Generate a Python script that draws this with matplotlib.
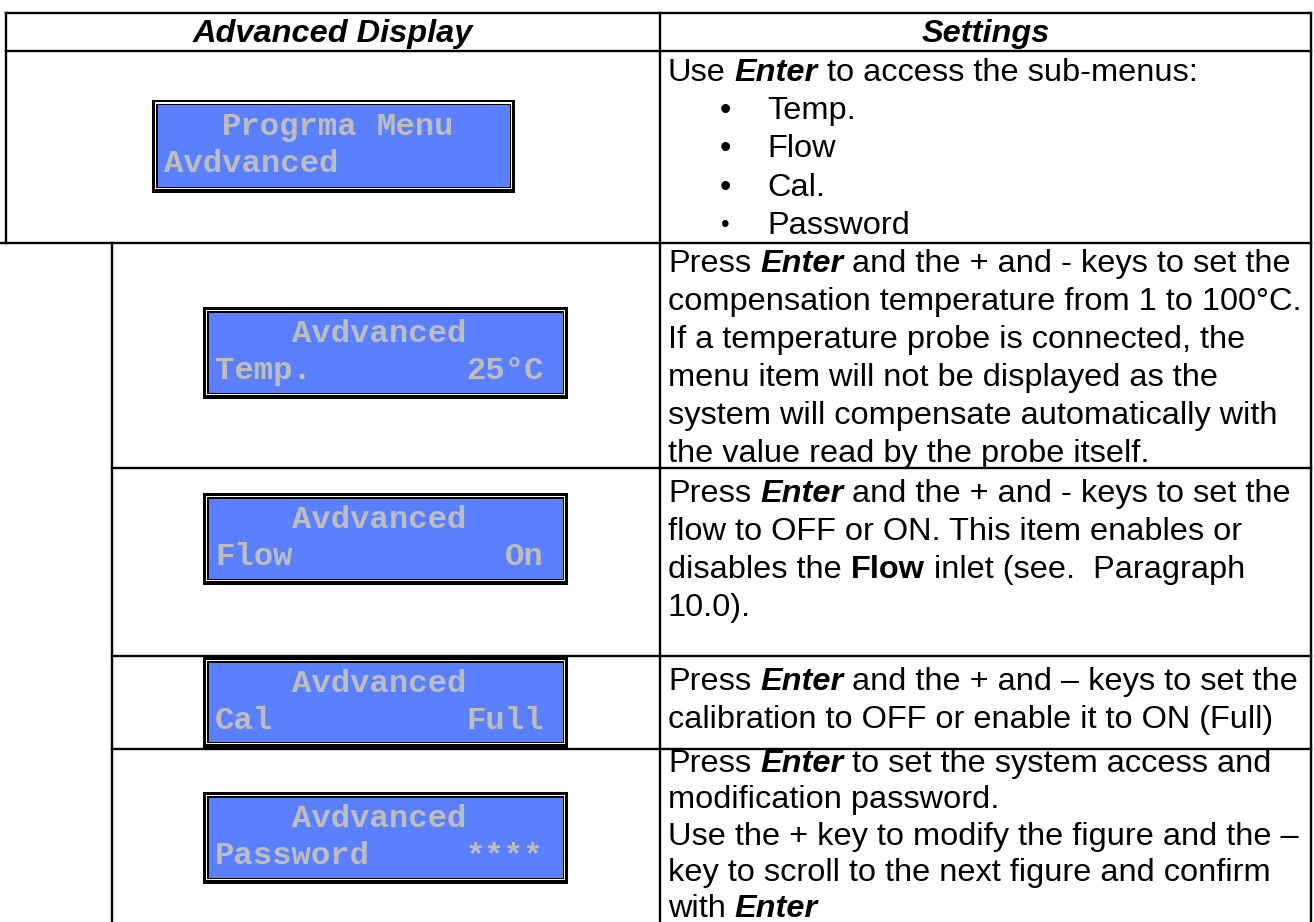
import matplotlib
matplotlib.use('Agg')
import matplotlib.pyplot as plt
from matplotlib.patches import Rectangle
from matplotlib.font_manager import FontProperties

# ---------------- data (texts of the table)
header_left = 'Advanced Display'
header_right = 'Settings'

lcd_lines = [
    ['   Progrma Menu', 'Avdvanced'],
    ['    Avdvanced', 'Temp.        25°C'],
    ['    Avdvanced', 'Flow           On'],
    ['    Avdvanced', 'Cal          Full'],
    ['    Avdvanced', 'Password     ****'],
]

bullets = ['Temp.', 'Flow', 'Cal.', 'Password']

# each line is a list of (text, style) runs: n normal, b bold, bi bold italic
settings = [
    [[('Use ', 'n'), ('Enter', 'bi'), (' to access the sub-menus:', 'n')]],
    [[('Press ', 'n'), ('Enter', 'bi'), (' and the + and - keys to set the', 'n')],
     [('compensation temperature from 1 to 100°C.', 'n')],
     [('If a temperature probe is connected, the', 'n')],
     [('menu item will not be displayed as the', 'n')],
     [('system will compensate automatically with', 'n')],
     [('the value read by the probe itself.', 'n')]],
    [[('Press ', 'n'), ('Enter', 'bi'), (' and the + and - keys to set the', 'n')],
     [('flow to OFF or ON. This item enables or', 'n')],
     [('disables the ', 'n'), ('Flow', 'b'), (' inlet (see.  Paragraph', 'n')],
     [('10.0).', 'n')]],
    [[('Press ', 'n'), ('Enter', 'bi'), (' and the + and \u2013 keys to set the', 'n')],
     [('calibration to OFF or enable it to ON (Full)', 'n')]],
    [[('Press ', 'n'), ('Enter', 'bi'), (' to set the system access and', 'n')],
     [('modification password.', 'n')],
     [('Use the + key to modify the figure and the \u2013', 'n')],
     [('key to scroll to the next figure and confirm', 'n')],
     [('with ', 'n'), ('Enter', 'bi')]],
]

######## layout (pixels)
W, H = 1314, 922
fig = plt.figure(figsize=(W / 100, H / 100), dpi=100)
ax = fig.add_axes([0, 0, 1, 1])
ax.set_xlim(0, W)
ax.set_ylim(H, 0)
ax.axis('off')

LW = 1.7
xl, xs, xm, xr = 6, 112, 660, 1311
ytop, yhead = 13, 51
row_lines = [243, 468, 656, 749]

def hline(y, x0, x1):
    ax.plot([x0, x1], [y, y], color='black', lw=LW, solid_capstyle='projecting')

def vline(x, y0, y1):
    ax.plot([x, x], [y0, y1], color='black', lw=LW, solid_capstyle='projecting')

hline(ytop, xl, xr)
hline(yhead, xl, xr)
hline(row_lines[0], 0, xr)
for y in row_lines[1:]:
    hline(y, xs, xr)
vline(xl, ytop, row_lines[0])
vline(xs, row_lines[0], H + 5)
vline(xm, ytop, H + 5)
vline(xr, ytop, H + 5)

SANS = 'Liberation Sans'
FS = 23.4
props = {
    'n': FontProperties(family=SANS, size=FS),
    'b': FontProperties(family=SANS, size=FS, weight='bold'),
    'bi': FontProperties(family=SANS, size=FS, weight='bold', style='italic'),
}

ax.text((xl + xm) / 2, 42, header_left, fontproperties=props['bi'], ha='center', va='baseline')
ax.text((xm + xr) / 2, 42, header_right, fontproperties=props['bi'], ha='center', va='baseline')

######## run layout for mixed style lines
renderer = fig.canvas.get_renderer()

def text_w(s, fp):
    w1 = renderer.get_text_width_height_descent('|' + s + '|', fp, ismath=False)[0]
    w0 = renderer.get_text_width_height_descent('||', fp, ismath=False)[0]
    return w1 - w0

def draw_runs(x, y, runs):
    for s, st in runs:
        fp = props[st]
        core = s.strip()
        lead = len(s) - len(s.lstrip())
        x += text_w(' ' * lead, fp) if lead else 0
        if core:
            ax.text(x, y, core, fontproperties=fp, ha='left', va='baseline')
        x += text_w(s.lstrip(), fp)

tx = 668
first_base = [81, 272, 502, 690, 772]
row_sp = [38.2, 38, 38, 38, 36.3]
for r, lines in enumerate(settings):
    for i, runs in enumerate(lines):
        draw_runs(tx, first_base[r] + i * row_sp[r], runs)

for i, b in enumerate(bullets):
    y = first_base[0] + (i + 1) * row_sp[0]
    ax.text(725, y - 8, '\u2022', fontproperties=props['n'], ha='center', va='center',
            fontsize=FS if i < 3 else FS * 0.75)
    ax.text(767, y, b, fontproperties=props['n'], ha='left', va='baseline')

######## LCD boxes
boxes = [(152, 100, 363, 93), (203, 307, 365, 92), (203, 493, 365, 92),
         (203, 657, 365, 91), (203, 792, 365, 92)]
LCD_BLUE = '#5a80ff'
LCD_TEXT = '#bdbdbd'
MONO = FontProperties(family='Liberation Mono', size=23.2, weight='bold')
CW = 19.3

for (bx, by, bw, bh), lines in zip(boxes, lcd_lines):
    ax.add_patch(Rectangle((bx, by), bw, bh, facecolor='black', edgecolor='none'))
    ax.add_patch(Rectangle((bx + 2.5, by + 2.5), bw - 6, bh - 6.5, facecolor='white', edgecolor='none'))
    ax.add_patch(Rectangle((bx + 3.8, by + 3.8), bw - 8.3, bh - 8.8, facecolor='black', edgecolor='none'))
    ax.add_patch(Rectangle((bx + 5.5, by + 5.5), bw - 11, bh - 11.5, facecolor=LCD_BLUE, edgecolor='none'))
    for j, line in enumerate(lines):
        yc = by + 27 + j * 37
        col = 0
        for part in line.split(' '):
            if part:
                ax.text(bx + 12 + col * CW, yc, part, fontproperties=MONO, color=LCD_TEXT,
                        ha='left', va='center')
            col += len(part) + 1

fig.savefig('out.png', dpi=100)
